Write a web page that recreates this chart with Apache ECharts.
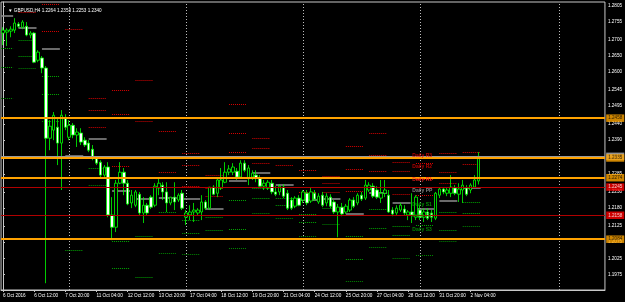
<!DOCTYPE html>
<html><head><meta charset="utf-8">
<script src="https://cdn.jsdelivr.net/npm/echarts@6/dist/echarts.min.js"></script>
<style>html,body{margin:0;padding:0;background:#000;}#c{width:625px;height:302px;}</style>
</head><body><div id="c"></div>
<script>
const symbolName = 'GBPUSD,H4';
const xTickLabels = ['6 Oct 2016','6 Oct 12:00','7 Oct 20:00','11 Oct 04:00','12 Oct 12:00','13 Oct 20:00','17 Oct 04:00','18 Oct 12:00','19 Oct 20:00','21 Oct 04:00','24 Oct 12:00','25 Oct 20:00','27 Oct 04:00','28 Oct 12:00','31 Oct 20:00','2 Nov 04:00'];
const yTicks = [1.2805,1.2755,1.2700,1.2650,1.2600,1.2545,1.2495,1.2440,1.2390,1.2335,1.2285,1.2230,1.2180,1.2125,1.2075,1.2025,1.1975,1.1925];

const open  = [1.2721,1.2724,1.2727,1.2730,1.2749,1.2739,1.2742,1.2715,1.2721,1.2637,1.2644,1.2613,1.2396,1.2421,1.2430,1.2381,1.2458,1.2399,1.2436,1.2406,1.2412,1.2390,1.2381,1.2362,1.2335,1.2322,1.2282,1.2307,1.2159,1.2121,1.2257,1.2291,1.2257,1.2196,1.2189,1.2223,1.2165,1.2189,1.2214,1.2189,1.2242,1.2251,1.2230,1.2196,1.2214,1.2205,1.2226,1.2152,1.2159,1.2168,1.2165,1.2168,1.2199,1.2180,1.2245,1.2226,1.2242,1.2260,1.2291,1.2291,1.2294,1.2276,1.2319,1.2273,1.2276,1.2282,1.2273,1.2248,1.2242,1.2257,1.2230,1.2230,1.2245,1.2226,1.2205,1.2186,1.2211,1.2205,1.2226,1.2202,1.2226,1.2199,1.2220,1.2196,1.2214,1.2199,1.2168,1.2183,1.2168,1.2174,1.2205,1.2196,1.2220,1.2211,1.2236,1.2248,1.2236,1.2211,1.2226,1.2220,1.2174,1.2165,1.2174,1.2177,1.2159,1.2168,1.2152,1.2174,1.2152,1.2168,1.2165,1.2149,1.2220,1.2239,1.2226,1.2226,1.2242,1.2223,1.2236,1.2242,1.2236,1.2245,1.2264];
const high  = [1.2739,1.2736,1.2742,1.2767,1.2755,1.2761,1.2755,1.2727,1.2724,1.2668,1.2650,1.2619,1.2452,1.2477,1.2458,1.2483,1.2470,1.2452,1.2443,1.2427,1.2427,1.2399,1.2390,1.2375,1.2341,1.2328,1.2313,1.2322,1.2214,1.2267,1.2322,1.2304,1.2267,1.2236,1.2236,1.2230,1.2214,1.2196,1.2220,1.2257,1.2273,1.2260,1.2260,1.2214,1.2260,1.2226,1.2236,1.2174,1.2189,1.2196,1.2180,1.2220,1.2205,1.2245,1.2251,1.2273,1.2304,1.2322,1.2313,1.2319,1.2304,1.2328,1.2328,1.2313,1.2297,1.2297,1.2282,1.2267,1.2267,1.2267,1.2248,1.2254,1.2254,1.2236,1.2214,1.2217,1.2220,1.2236,1.2236,1.2242,1.2236,1.2226,1.2230,1.2226,1.2223,1.2205,1.2193,1.2196,1.2193,1.2211,1.2214,1.2226,1.2230,1.2267,1.2260,1.2257,1.2248,1.2267,1.2267,1.2236,1.2183,1.2189,1.2196,1.2189,1.2174,1.2226,1.2220,1.2189,1.2180,1.2180,1.2174,1.2230,1.2245,1.2245,1.2245,1.2282,1.2251,1.2257,1.2267,1.2251,1.2257,1.2282,1.2353];
const low   = [1.2684,1.2681,1.2708,1.2721,1.2736,1.2733,1.2711,1.2705,1.2628,1.2631,1.2597,1.1948,1.2359,1.2390,1.2313,1.2236,1.2421,1.2390,1.2396,1.2369,1.2375,1.2369,1.2353,1.2328,1.2313,1.2276,1.2276,1.2152,1.2081,1.2106,1.2254,1.2220,1.2189,1.2180,1.2183,1.2159,1.2134,1.2159,1.2177,1.2183,1.2220,1.2205,1.2168,1.2189,1.2174,1.2199,1.2174,1.2128,1.2143,1.2137,1.2159,1.2143,1.2174,1.2174,1.2220,1.2214,1.2236,1.2257,1.2282,1.2282,1.2267,1.2273,1.2291,1.2251,1.2267,1.2260,1.2242,1.2236,1.2236,1.2223,1.2217,1.2220,1.2211,1.2174,1.2174,1.2180,1.2186,1.2196,1.2189,1.2196,1.2202,1.2193,1.2183,1.2186,1.2180,1.2162,1.2090,1.2155,1.2162,1.2168,1.2180,1.2189,1.2202,1.2205,1.2230,1.2211,1.2208,1.2196,1.2214,1.2165,1.2155,1.2159,1.2168,1.2159,1.2143,1.2134,1.2143,1.2143,1.2137,1.2143,1.2137,1.2143,1.2211,1.2223,1.2217,1.2214,1.2220,1.2199,1.2196,1.2217,1.2226,1.2242,1.2253];
const close = [1.2730,1.2730,1.2733,1.2752,1.2742,1.2755,1.2715,1.2721,1.2631,1.2662,1.2613,1.2396,1.2433,1.2467,1.2381,1.2467,1.2430,1.2436,1.2406,1.2415,1.2384,1.2375,1.2359,1.2335,1.2319,1.2282,1.2307,1.2159,1.2121,1.2257,1.2291,1.2257,1.2193,1.2220,1.2230,1.2165,1.2189,1.2165,1.2183,1.2248,1.2257,1.2230,1.2196,1.2214,1.2199,1.2220,1.2180,1.2165,1.2168,1.2174,1.2174,1.2199,1.2180,1.2245,1.2223,1.2267,1.2267,1.2291,1.2301,1.2307,1.2276,1.2319,1.2297,1.2304,1.2288,1.2273,1.2248,1.2257,1.2260,1.2230,1.2223,1.2248,1.2217,1.2180,1.2180,1.2211,1.2189,1.2230,1.2196,1.2230,1.2208,1.2217,1.2189,1.2217,1.2186,1.2168,1.2183,1.2162,1.2186,1.2205,1.2186,1.2220,1.2208,1.2251,1.2251,1.2217,1.2214,1.2226,1.2236,1.2168,1.2162,1.2180,1.2189,1.2165,1.2168,1.2159,1.2214,1.2152,1.2168,1.2149,1.2152,1.2226,1.2239,1.2230,1.2236,1.2245,1.2226,1.2239,1.2251,1.2223,1.2251,1.2267,1.2340];

// daily pivot levels (one entry per day, starting bar index of each day's segment)
const dayStart = [-2,4,10,16,22,28,34,40,46,52,58,64,70,76,82,88,94,100,106,112,118];
const pivR3 = [null,null,null,null,1.2520,1.2545,1.2576,1.2418,1.2350,1.2282,1.2501,1.2396,1.2335,1.2297,1.2279,1.2372,1.2412,1.2322,1.2319,1.2350,1.2353];
const pivR2 = [null,null,1.2810,null,1.2483,1.2470,1.2449,1.2341,1.2313,1.2242,1.2412,1.2365,1.2313,1.2273,1.2257,1.2301,1.2344,1.2294,1.2270,1.2291,1.2316];
const pivR1 = [null,1.2786,1.2727,1.2733,1.2430,1.2310,1.2335,1.2291,1.2248,1.2217,1.2353,1.2319,1.2273,1.2230,1.2230,1.2233,1.2294,1.2223,1.2220,1.2257,1.2276];
const pivPP = [1.2773,1.2736,1.2671,1.2341,1.2393,1.2233,1.2208,1.2211,1.2208,1.2177,1.2264,1.2288,1.2251,1.2205,1.2208,1.2162,1.2226,1.2196,1.2177,1.2202,1.2242];
const pivS1 = [1.2674,1.2699,1.2588,1.2050,1.2341,1.2078,1.2094,1.2168,1.2143,1.2152,1.2205,1.2242,1.2211,1.2162,1.2180,1.2094,1.2177,1.2124,1.2128,1.2168,1.2199];
const pivS2 = [1.2616,1.2650,1.2532,null,1.2304,1.1995,1.1967,1.2087,1.2103,1.2112,1.2115,1.2211,1.2189,1.2137,1.2159,1.2023,1.2118,1.2097,1.2084,1.2112,1.2165];
const pivS3 = [1.2520,1.2613,1.2449,null,1.2251,null,null,1.2041,1.2038,1.2087,1.2056,1.2165,1.2149,1.2094,1.2131,1.1954,1.2060,1.2025,1.2035,1.2078,1.2124];
const pivNames = ['Daily R3','Daily R2','Daily R1','Daily PP','Daily S1','Daily S2','Daily S3'];

const orangeLevels = [1.2458,1.2335,1.2274,1.2084];
const redLevels = [1.2245,1.2158];
const bidPrice = 1.2340;
const weekSeparators = [17,47,77,107];
const otherVLines = [142.8];
const slotCount = 155;

const FONT = 'Liberation Sans';
const Y_MIN = 1.1927, Y_MAX = 1.2817, X_MIN = -0.5, X_MAX = slotCount - 0.5;
const chart = echarts.init(document.getElementById('c'), null, {renderer:'canvas'});
const cats = Array.from({length: slotCount}, (_, i) => String(i));
const candleData = open.map((o, i) => [o, close[i], low[i], high[i]]);
const lastI = open.length - 1;

function segs(arr){
  const out = [];
  arr.forEach((v, k) => {
    if (v == null) return;
    const s = Math.max(X_MIN, dayStart[k]);
    const e = dayStart[k] + 4.6;
    if (e <= X_MIN) return;
    out.push({coords: [[s, v], [e, v]]});
  });
  return out;
}
const linesSeries = (data, style, z) => ({
  type: 'lines', coordinateSystem: 'cartesian2d', xAxisIndex: 1, yAxisIndex: 0,
  silent: true, z: z, clip: true, polyline: false, lineStyle: Object.assign({opacity: 1, curveness: 0}, style), data: data
});

const RED = '#d80000', GREEN = '#00a800', GRAY = '#8e8e8e';
const pivDefs = [
  [pivR3, RED, 1, [1,1]], [pivR2, RED, 1, [1,1]], [pivR1, RED, 1, [1,1]],
  [pivPP, GRAY, 1.6, 'solid'],
  [pivS1, GREEN, 1, [1,1]], [pivS2, GREEN, 1, [1,1]], [pivS3, '#008800', 1, [1,1]]
];
const pivSeries = pivDefs.map(d => linesSeries(segs(d[0]), {color: d[1], width: d[2], type: d[3]}, 2));

const lastPiv = [pivR3, pivR2, pivR1, pivPP, pivS1, pivS2, pivS3].map(a => a[a.length - 1]);
const labelColors = ['#e00000','#e00000','#ff2020','#a0a0a0','#00b000','#00b000','#00a000'];

const hLine = v => ({coords: [[X_MIN, v], [X_MAX, v]]});
const vLine = x => ({coords: [[x, Y_MIN], [x, Y_MAX]]});

const tag = (v, bg, fg) => ({value: [X_MAX, v], label: {show: true, position: 'right', distance: 1,
  formatter: v.toFixed(4), backgroundColor: bg, color: fg, fontSize: 4.6, fontFamily: FONT, padding: [1.5,2,1,2]}});

const option = {
  animation: false,
  backgroundColor: '#000',
  title: {text: '\u25BC ' + symbolName + ' ' + [open[lastI], high[lastI], low[lastI], close[lastI]].map(v => v.toFixed(4)).join(' '),
    left: 3, top: 3, textStyle: {color: '#ffffff', fontSize: 4.6, fontFamily: FONT, fontWeight: 'normal'}},
  grid: {left: 0, right: 20, top: 2, bottom: 12, show: true, borderColor: '#c8c8c8', borderWidth: 1, backgroundColor: '#000'},
  xAxis: [{
    type: 'category', data: cats, boundaryGap: true,
    axisLine: {show: true, lineStyle: {color: '#c8c8c8', width: 1}},
    axisTick: {show: true, alignWithLabel: true, length: 2, lineStyle: {color: '#c8c8c8'},
      interval: (i) => i % 8 === 0 && i / 8 < xTickLabels.length},
    axisLabel: {show: true, interval: (i) => i % 8 === 0 && i / 8 < xTickLabels.length,
      formatter: (v, i) => xTickLabels[Math.round(i / 8)] || '', align: 'left', margin: 3,
      color: '#ffffff', fontSize: 4.65, fontFamily: FONT},
    splitLine: {show: false}
  }, {
    type: 'value', min: X_MIN, max: X_MAX, show: false, gridIndex: 0
  }],
  yAxis: [{
    type: 'value', position: 'right', min: Y_MIN, max: Y_MAX,
    axisLine: {show: true, lineStyle: {color: '#c8c8c8', width: 1}},
    axisTick: {show: true, length: 2, customValues: yTicks, lineStyle: {color: '#c8c8c8'}},
    axisLabel: {show: true, customValues: yTicks, formatter: v => v.toFixed(4), margin: 3,
      color: '#ffffff', fontSize: 4.6, fontFamily: FONT},
    splitLine: {show: false}
  }],
  series: [
    linesSeries(weekSeparators.concat(otherVLines).map(vLine), {color: '#bdbdbd', width: 1, type: [1,2]}, 1),
    ...pivSeries,
    {
      type: 'candlestick', xAxisIndex: 0, yAxisIndex: 0, data: candleData, barWidth: 3, z: 3, silent: true,
      itemStyle: {color: '#000000', color0: '#ffffff', borderColor: '#00ff00', borderColor0: '#00ff00', borderWidth: 0.8}
    },
    linesSeries([hLine(bidPrice)], {color: '#9a9a9a', width: 1, type: 'solid'}, 4),
    linesSeries(redLevels.map(hLine), {color: '#b00000', width: 1, type: 'solid'}, 4),
    linesSeries(orangeLevels.map(hLine), {color: '#ffa200', width: 2, type: 'solid'}, 5),
    {
      type: 'scatter', xAxisIndex: 1, yAxisIndex: 0, symbolSize: 0.5, silent: true, z: 6, clip: false,
      itemStyle: {color: 'rgba(0,0,0,0)'},
      data: [tag(bidPrice, '#b8b8b8', '#000000')]
        .concat(redLevels.map(v => tag(v, '#ff0000', '#ffffff')))
        .concat(orangeLevels.map(v => tag(v, '#ffa500', '#000000')))
    },
    {
      type: 'scatter', xAxisIndex: 1, yAxisIndex: 0, symbolSize: 0.5, silent: true, z: 7,
      itemStyle: {color: 'rgba(0,0,0,0)'},
      data: lastPiv.map((v, j) => ({name: pivNames[j], value: [105, v],
        label: {show: true, position: 'right', distance: 0, offset: [0, 3], formatter: '{b}',
          color: labelColors[j], fontSize: 5, fontWeight: 'bold', fontFamily: FONT}}))
    }
  ]
};
chart.setOption(option);
</script>
</body></html>
